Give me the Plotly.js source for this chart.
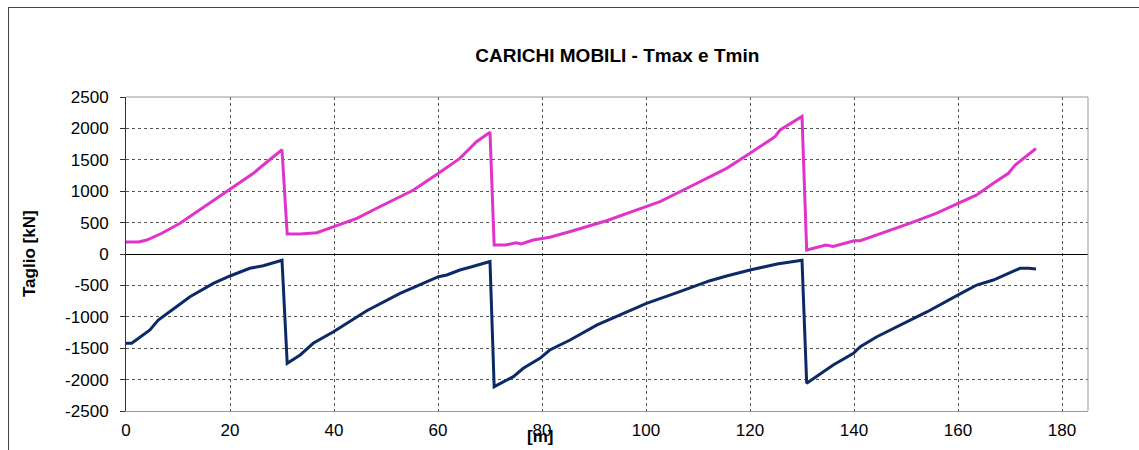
<!DOCTYPE html>
<html>
<head>
<meta charset="utf-8">
<script src="https://cdn.plot.ly/plotly-3.0.1.min.js"></script>
<style>
  html, body { margin: 0; padding: 0; background: #fff; }
  #wrap { position: relative; width: 1139px; height: 450px; }
  #chart { width: 1139px; height: 450px; }
  #frame { position: absolute; left: 8px; top: 7px; width: 1140px; height: 460px;
           border: 1px solid #444; pointer-events: none; box-sizing: border-box; }
</style>
</head>
<body>
<div id="wrap">
  <div id="chart"></div>
  <div id="frame"></div>
</div>
<script>
// Tmax (pink)
const xMax = [0, 2.4, 4, 6.9, 10.4, 14.2, 20, 24.5, 26.4, 30,
  31, 33.5, 36.7, 40, 44.4, 48.5, 52.8, 55.3, 60.1, 64.2,
  67.4, 70, 70.8, 73, 75, 76, 78.3, 81.5, 85.3, 92.4,
  100, 102.7, 107.2, 112.3, 115.5, 120, 124.8, 125.8, 130, 130.9,
  134.6, 136, 140, 141.2, 145, 150.7, 155.8, 160.2, 163.6, 166.8,
  169.7, 171, 175];
const yMax = [190, 190, 223, 330, 489, 700, 1030, 1285, 1417, 1660,
  318, 318, 340, 435, 568, 740, 912, 1019, 1285, 1523,
  1788, 1940, 143, 143, 180, 159, 223, 266, 355, 530,
  753, 833, 1019, 1231, 1364, 1603, 1868, 1975, 2190, 64,
  143, 120, 212, 212, 318, 489, 648, 820, 940, 1126,
  1285, 1417, 1680];

// Tmin (navy)
const xMin = [0, 1.1, 4.6, 6.2, 9.7, 12.3, 16.8, 20, 23.8, 26.4,
  30, 31, 33.5, 36, 39.9, 41.2, 46.3, 52.7, 57.2, 60.1,
  61.7, 64.2, 66.5, 70, 70.8, 74.5, 76.4, 79.6, 81.5, 85.4,
  90.6, 95, 100.1, 106.5, 112.3, 115.5, 120, 125.2, 130, 130.9,
  136, 139.9, 141.2, 144.4, 150.2, 154.1, 160.3, 163.6, 166.8, 171.9,
  173.6, 175];
const yMin = [-1420, -1420, -1210, -1051, -839, -680, -467, -350, -228, -186,
  -100, -1741, -1608, -1422, -1237, -1167, -903, -626, -467, -361,
  -334, -255, -202, -120, -2113, -1953, -1820, -1661, -1529, -1369,
  -1130, -971, -785, -600, -425, -350, -255, -159, -100, -2059,
  -1768, -1581, -1476, -1317, -1078, -919, -640, -494, -414, -228,
  -228, -240];

const xTicks = [0, 20, 40, 60, 80, 100, 120, 140, 160, 180];
const yTicks = [-2500, -2000, -1500, -1000, -500, 0, 500, 1000, 1500, 2000, 2500];

const FONT = "Liberation Sans, Arial, sans-serif";

const traces = [
  { x: xMax, y: yMax, name: "Tmax", mode: "lines",
    line: { color: "#E033C9", width: 3 } },
  { x: xMin, y: yMin, name: "Tmin", mode: "lines",
    line: { color: "#0B2A66", width: 3 } }
];

const layout = {
  width: 1139, height: 450,
  margin: { l: 126, r: 51, t: 97, b: 39 },
  paper_bgcolor: "#fff", plot_bgcolor: "#fff",
  showlegend: false,
  font: { family: FONT, size: 17, color: "#000" },
  title: { text: "<b>CARICHI MOBILI - Tmax e Tmin</b>",
           font: { family: FONT, size: 19, color: "#000" },
           x: 0.542, xanchor: "center", y: 1 - 55/450, yanchor: "middle" },
  xaxis: {
    range: [0, 185], tickvals: xTicks, ticktext: xTicks.map(String),
    showgrid: true, gridcolor: "#555", griddash: "dot", gridwidth: 1,
    zeroline: false, showline: true, linecolor: "#999", linewidth: 1,
    ticks: "", ticklabelstandoff: 4,
    tickfont: { family: FONT, size: 17, color: "#000" },
    fixedrange: true
  },
  yaxis: {
    range: [-2500, 2500], tickvals: yTicks, ticktext: yTicks.map(String),
    showgrid: true, gridcolor: "#555", griddash: "dot", gridwidth: 1,
    zeroline: true, zerolinecolor: "#000", zerolinewidth: 1,
    showline: true, linecolor: "#333", linewidth: 1,
    ticks: "outside", ticklen: 5, tickcolor: "#333", ticklabelstandoff: 8,
    tickfont: { family: FONT, size: 17, color: "#000" },
    fixedrange: true
  },
  shapes: [
    { type: "line", xref: "paper", yref: "paper", x0: 0, x1: 1, y0: 1, y1: 1,
      line: { color: "#999", width: 1 } },
    { type: "line", xref: "paper", yref: "paper", x0: 1, x1: 1, y0: 0, y1: 1,
      line: { color: "#999", width: 1 } }
  ],
  annotations: [
    { text: "<b>Taglio [kN]</b>", xref: "paper", yref: "paper",
      x: (29 - 126) / 962, y: (411 - 254) / 314, textangle: -90,
      showarrow: false, xanchor: "center", yanchor: "middle",
      font: { family: FONT, size: 17, color: "#000" } },
    { text: "<b>[m]</b>", xref: "paper", yref: "paper",
      x: (540 - 126) / 962, y: (411 - 436) / 314,
      showarrow: false, xanchor: "center", yanchor: "middle",
      font: { family: FONT, size: 17, color: "#000" } }
  ]
};

Plotly.newPlot("chart", traces, layout, { displayModeBar: false, staticPlot: true });
</script>
</body>
</html>
